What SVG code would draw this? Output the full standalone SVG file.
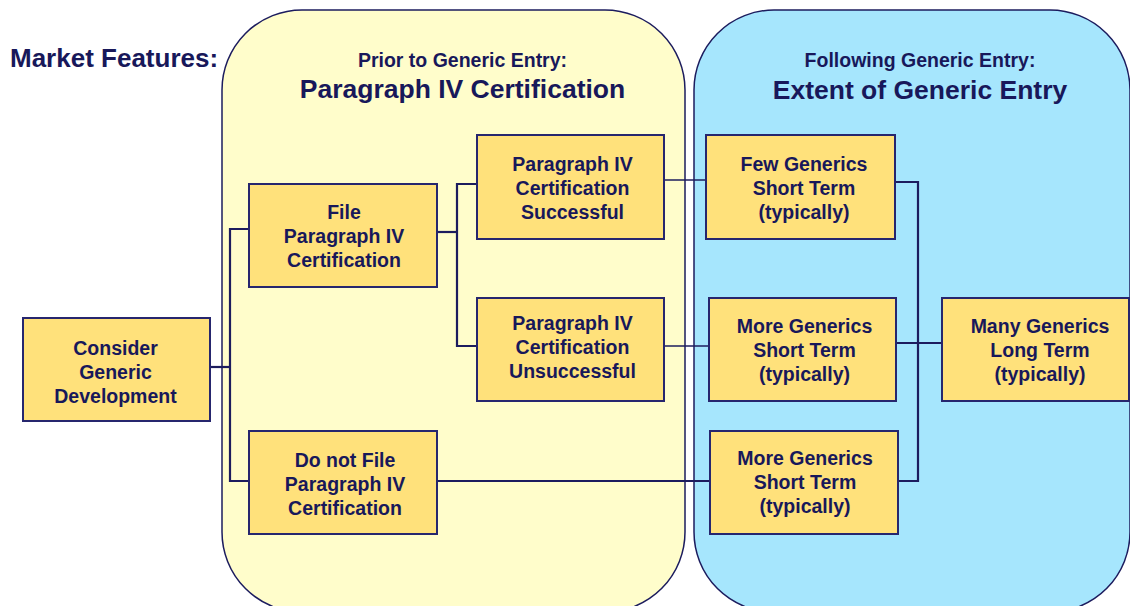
<svg xmlns="http://www.w3.org/2000/svg" width="1130" height="606" viewBox="0 0 1130 606">
<style>
text{font-family:"Liberation Sans",Arial,sans-serif;font-weight:bold;fill:#18185a;text-anchor:middle}
.box{fill:#FFE17B;stroke:#26266e;stroke-width:2}
.bt{font-size:19.5px}
.c{fill:none;stroke:#1c1c5e;stroke-width:2.2}
.t{fill:none;stroke:#1c1c5e;stroke-width:1.3}
</style>
<rect width="1130" height="606" fill="#ffffff"/>
<g id="containers">
<rect id="prior" x="222" y="10" width="463" height="602" rx="80" ry="80" fill="#FFFDCB" stroke="#1c1c5e" stroke-width="1.5"/>
<rect id="following" x="694" y="10" width="436" height="602" rx="80" ry="80" fill="#A6E6FD" stroke="#1c1c5e" stroke-width="1.5"/>
</g>
<g id="titles">
<text x="10" y="67" style="font-size:26px;text-anchor:start">Market Features:</text>
<text x="462.5" y="67" style="font-size:19.5px">Prior to Generic Entry:</text>
<text x="462.5" y="98" style="font-size:26.5px">Paragraph IV Certification</text>
<text x="920" y="67" style="font-size:19.5px">Following Generic Entry:</text>
<text x="920" y="99" style="font-size:26.5px">Extent of Generic Entry</text>
</g>
<g id="connectors">
<polyline class="c" points="210,367 230,367"/>
<polyline class="c" points="249,229 230,229 230,481 249,481"/>
<polyline class="c" points="437,232 457,232"/>
<polyline class="c" points="477,184 457,184 457,346 477,346"/>
<polyline class="t" points="664,180 706,180"/>
<polyline class="t" points="664,346 709,346"/>
<polyline class="c" points="437,481 710,481"/>
<polyline class="c" points="895,182 918,182 918,481 898,481"/>
<polyline class="c" points="896,343 942,343"/>
</g>
<g id="n-consider">
<rect class="box" x="23" y="318" width="187" height="103"/>
<text class="bt" x="115.5" y="355">Consider</text>
<text class="bt" x="115.5" y="379">Generic</text>
<text class="bt" x="115.5" y="403">Development</text>
</g>
<g id="n-file">
<rect class="box" x="249" y="184" width="188" height="103"/>
<text class="bt" x="344" y="219">File</text>
<text class="bt" x="344" y="243">Paragraph IV</text>
<text class="bt" x="344" y="267">Certification</text>
</g>
<g id="n-donotfile">
<rect class="box" x="249" y="431" width="188" height="103"/>
<text class="bt" x="345" y="467">Do not File</text>
<text class="bt" x="345" y="491">Paragraph IV</text>
<text class="bt" x="345" y="515">Certification</text>
</g>
<g id="n-success">
<rect class="box" x="477" y="135" width="187" height="104"/>
<text class="bt" x="572.5" y="171">Paragraph IV</text>
<text class="bt" x="572.5" y="195">Certification</text>
<text class="bt" x="572.5" y="219">Successful</text>
</g>
<g id="n-unsuccess">
<rect class="box" x="477" y="298" width="187" height="103"/>
<text class="bt" x="572.5" y="330">Paragraph IV</text>
<text class="bt" x="572.5" y="354">Certification</text>
<text class="bt" x="572.5" y="378">Unsuccessful</text>
</g>
<g id="n-few">
<rect class="box" x="706" y="135" width="189" height="104"/>
<text class="bt" x="804" y="171">Few Generics</text>
<text class="bt" x="804" y="195">Short Term</text>
<text class="bt" x="804" y="219">(typically)</text>
</g>
<g id="n-more1">
<rect class="box" x="709" y="298" width="187" height="103"/>
<text class="bt" x="804.5" y="333">More Generics</text>
<text class="bt" x="804.5" y="357">Short Term</text>
<text class="bt" x="804.5" y="381">(typically)</text>
</g>
<g id="n-more2">
<rect class="box" x="710" y="431" width="188" height="103"/>
<text class="bt" x="805" y="465">More Generics</text>
<text class="bt" x="805" y="489">Short Term</text>
<text class="bt" x="805" y="513">(typically)</text>
</g>
<g id="n-many">
<rect class="box" x="942" y="298" width="187" height="103"/>
<text class="bt" x="1040" y="333">Many Generics</text>
<text class="bt" x="1040" y="357">Long Term</text>
<text class="bt" x="1040" y="381">(typically)</text>
</g>
</svg>
